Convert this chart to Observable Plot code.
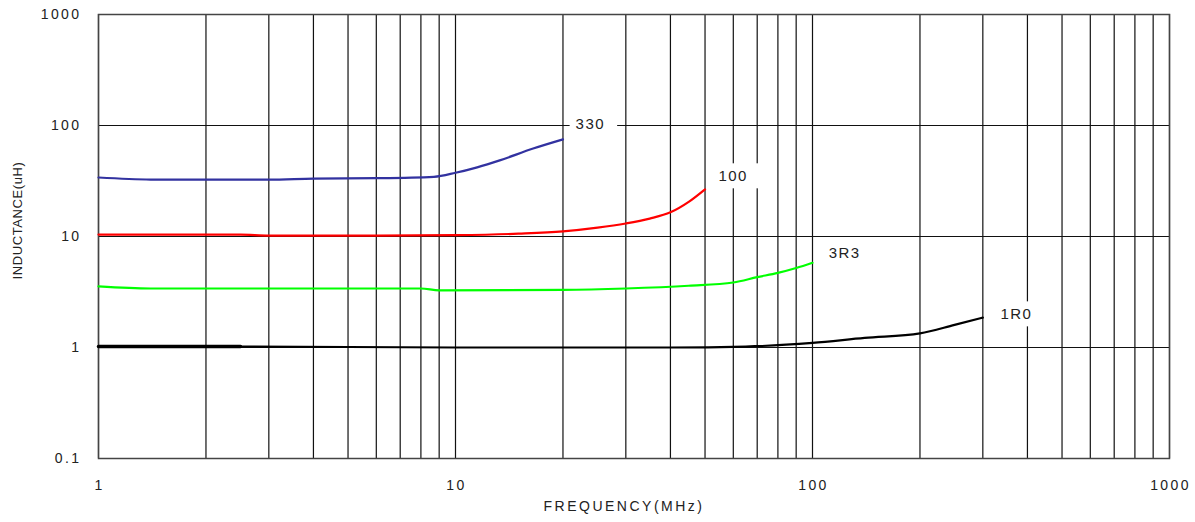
<!DOCTYPE html>
<html><head><meta charset="utf-8">
<script src="https://cdn.jsdelivr.net/npm/d3@7"></script>
<script src="https://cdn.jsdelivr.net/npm/@observablehq/plot@0.6"></script>
<style>body{margin:0;background:#fff}
.ticklbl text{letter-spacing:2.4px}
.serlbl text{letter-spacing:1.5px}
.xtitle text{letter-spacing:2.5px}
.ytitle text{letter-spacing:0.6px}
</style>
</head><body><div id="chart"></div>
<script>
const freq330 = [1, 1.4, 2, 3, 4, 6, 8.7, 10, 11.5, 13.3, 16.5, 20];
const ind330  = [34, 32.6, 32.5, 32.5, 33.2, 33.5, 34.5, 37.5, 42, 48.5, 62, 75];
const freq100 = [1, 2.5, 3, 6, 10, 15, 20, 25, 30, 35, 40, 45, 50];
const ind100  = [10.4, 10.4, 10.2, 10.2, 10.3, 10.6, 11.1, 12, 13.1, 14.5, 16.5, 20.5, 26.6];
const freq3R3 = [1, 1.4, 3, 8, 9, 20, 30, 45, 60, 70, 80, 90, 100];
const ind3R3  = [3.55, 3.4, 3.4, 3.4, 3.27, 3.3, 3.4, 3.6, 3.85, 4.3, 4.7, 5.2, 5.8];
const freq1R0 = [1, 2.5, 10, 40, 65, 100, 140, 200, 250, 300];
const ind1R0  = [1.02, 1.02, 1.0, 1.0, 1.02, 1.1, 1.22, 1.34, 1.6, 1.86];
const seriesNames = ["330", "100", "3R3", "1R0"];
const seriesColors = ["#3232a0", "#ff0000", "#00ff00", "#000000"];
const labelX = [21.7, 54.5, 111, 336];
const labelY = [100, 34, 6.9, 1.94];
const xTicks = [1, 10, 100, 1000];
const yTicks = [0.1, 1, 10, 100, 1000];
const xGrid = d3.range(0, 3).flatMap(e => d3.range(1, 10).map(m => m * 10 ** e)).concat([1000]);

const rows = [];
[[freq330, ind330], [freq100, ind100], [freq3R3, ind3R3], [freq1R0, ind1R0]].forEach(([f, v], i) => {
  f.forEach((x, j) => rows.push({series: seriesNames[i], f: x, L: v[j]}));
});
const labels = seriesNames.map((s, i) => ({series: s, f: labelX[i], L: labelY[i]}));
const black0 = rows.filter(r => r.series === "1R0" && r.f <= 2.5);

const chart = Plot.plot({
  width: 1195, height: 522,
  marginLeft: 98, marginRight: 26, marginTop: 14, marginBottom: 64,
  style: {fontFamily: "'Liberation Sans', Arial, sans-serif", fontSize: "14px", color: "#222"},
  x: {type: "log", domain: [1, 1000], label: null},
  y: {type: "log", domain: [0.1, 1000], label: null},
  color: {domain: seriesNames, range: seriesColors},
  marks: [
    Plot.ruleX(xGrid, {stroke: "#111", strokeWidth: 1.2}),
    Plot.ruleY(yTicks, {stroke: "#111", strokeWidth: 1.2}),
    Plot.frame({stroke: "#444", strokeWidth: 1.5}),
    Plot.text(labels, {x: "f", y: "L", text: "series", textAnchor: "start", fontSize: 15, fill: "#222", className: "serlbl", dy: -1}),
    Plot.line(rows, {x: "f", y: "L", z: "series", stroke: "series", strokeWidth: 2.2, curve: "monotone-x"}),
    Plot.line(black0, {x: "f", y: "L", stroke: "#000", strokeWidth: 3.4}),
    Plot.axisX({ticks: xTicks, tickSize: 0, tickPadding: 22, tickFormat: d => String(d), fontSize: 14, className: "ticklbl", dx: 1}),
    Plot.axisY({ticks: yTicks, tickSize: 0, tickPadding: 17, tickFormat: d => String(d), fontSize: 14, className: "ticklbl"}),
    Plot.text(["FREQUENCY(MHz)"], {frameAnchor: "bottom", dy: 52, dx: -10, fontSize: 14, fill: "#222", className: "xtitle"}),
    Plot.text(["INDUCTANCE(uH)"], {frameAnchor: "left", textAnchor: "middle", dx: -81, dy: -16, rotate: -90, fontSize: 13, fill: "#222", className: "ytitle"})
  ]
});
document.getElementById("chart").appendChild(chart);
// white boxes behind series labels
d3.select(chart).selectAll(".serlbl text").each(function() {
  const b = this.getBBox();
  const tr = this.getAttribute("transform");
  const r = document.createElementNS("http://www.w3.org/2000/svg", "rect");
  r.setAttribute("x", b.x - 6); r.setAttribute("y", b.y - 4);
  r.setAttribute("width", b.width + 18); r.setAttribute("height", b.height + 8);
  r.setAttribute("fill", "white");
  if (tr) r.setAttribute("transform", tr);
  this.parentNode.insertBefore(r, this);
});
</script></body></html>
